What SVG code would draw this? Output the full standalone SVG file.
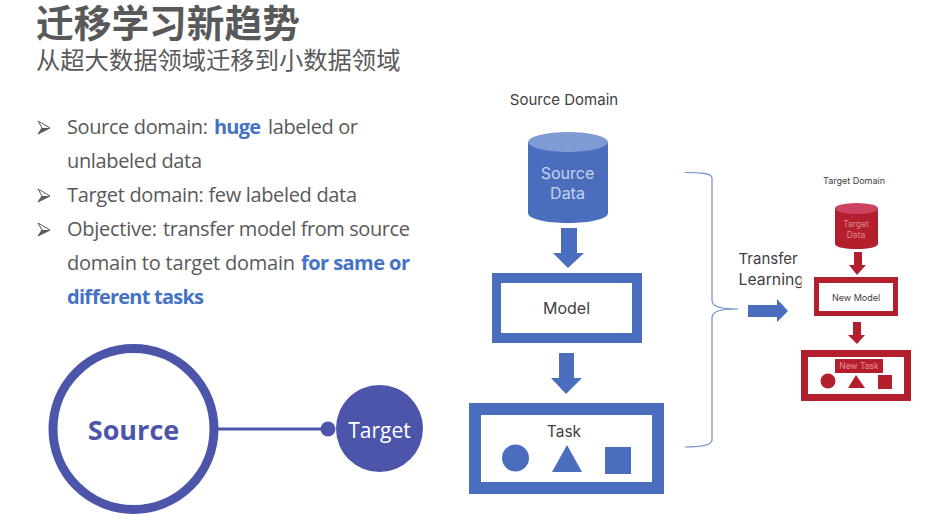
<svg xmlns="http://www.w3.org/2000/svg" width="945" height="521" viewBox="0 0 945 521">
<style>
text{font-family:"Open Sans","Liberation Sans",sans-serif}
.cjk{font-family:"Noto Sans CJK SC",sans-serif}
.b{font-size:20px;fill:#595959}
.bb{font-weight:700;fill:#4472c4}
.bl{fill:#4a6ebd}
.rd{fill:#b41f2e}
.w{fill:#fff}
.in{fill:#4c55a9}
.d{font-family:Inter,"Open Sans",sans-serif;fill:#404040;text-anchor:middle}
</style>
<defs>
<clipPath id="tc"><rect x="730" y="245" width="71.500" height="50"/></clipPath>
<g id="bul">
<path d="M0 0L12 7L0 13L4 7Z" fill="#fff" stroke="#595959" stroke-width="1" stroke-linejoin="miter"/>
<path d="M4 7H12L0 13Z" fill="#595959"/>
</g>
</defs>
<rect width="945" height="521" fill="#fff"/>
<g id="title">
<text class="cjk" x="36" y="37" font-size="37.7" font-weight="700" fill="#595959">迁移学习新趋势</text>
<text class="cjk" x="36" y="69" font-size="24.3" fill="#595959">从超大数据领域迁移到小数据领域</text>
</g>
<g id="bullets">
<use href="#bul" x="38" y="121"/>
<use href="#bul" x="38" y="189"/>
<use href="#bul" x="38" y="223"/>
<text class="b" x="67" y="134" textLength="141">Source domain:</text>
<text class="b bb" x="214" y="134" textLength="47">huge</text>
<text class="b" x="268" y="134" textLength="90">labeled or</text>
<text class="b" x="67" y="168" textLength="135">unlabeled data</text>
<text class="b" x="67" y="202" textLength="290">Target domain: few labeled data</text>
<text class="b" x="67" y="236" textLength="90">Objective:</text>
<text class="b" x="163" y="236" textLength="247">transfer model from source</text>
<text class="b" x="67" y="270" textLength="228">domain to target domain</text>
<text class="b bb" x="301" y="270" textLength="109">for same or</text>
<text class="b bb" x="67" y="304" textLength="137">different tasks</text>
</g>
<g id="connectors">
<line x1="218" y1="429" x2="328" y2="429" stroke="#4c55a9" stroke-width="3"/>
<circle class="in" cx="328" cy="429" r="7.5"/>
<path d="M685 172.500C700 172.500 712 173 712 178V300C712 306 718 309 738 309C718 309 712 312 712 318V440C712 445 700 447 685 447" fill="none" stroke="#6f90c8" stroke-width="1.200"/>
<path class="bl" d="M561 228H577V253H584L568 268L553 253H561Z"/>
<path class="bl" d="M559 353H574V378H582L566 394L551 378H559Z"/>
<path class="bl" d="M748 305H777V299L788 311L777 322V317H748Z"/>
<path class="rd" d="M854 252H862V265H866L857 275L849 265H854Z"/>
<path class="rd" d="M853 322H861V335H865L857 344L848 335H853Z"/>
</g>
<g id="source">
<circle cx="133.500" cy="429" r="80.500" fill="#fff" stroke="#4c55a9" stroke-width="9"/>
<text x="133.500" y="440" font-size="27" font-weight="700" fill="#4c55a9" text-anchor="middle">Source</text>
</g>
<g id="target">
<circle class="in" cx="379.500" cy="428.500" r="43.500"/>
<text x="379.500" y="438" font-size="21" fill="#fff" text-anchor="middle">Target</text>
</g>
<g id="source-domain-label"><text class="d" x="564" y="105" font-size="15">Source Domain</text></g>
<g id="source-data">
<path class="bl" d="M528 142V213C528 219 546 223 568 223S608 219 608 213V142Z"/>
<ellipse cx="568" cy="142" rx="40" ry="10" fill="#7f9bd3"/>
<text x="567.500" y="179" font-size="16" fill="#c5d3ee" text-anchor="middle" style="font-family:Inter,sans-serif">Source</text>
<text x="567.500" y="199" font-size="16" fill="#c5d3ee" text-anchor="middle" style="font-family:Inter,sans-serif">Data</text>
</g>
<g id="model">
<rect class="bl" x="492" y="273" width="150" height="70"/>
<rect class="w" x="501" y="283" width="131" height="50"/>
<text class="d" x="566.500" y="314" font-size="16">Model</text>
</g>
<g id="task">
<rect class="bl" x="469" y="403" width="195" height="91"/>
<rect class="w" x="481" y="415" width="171" height="67"/>
<text class="d" x="564" y="437" font-size="15.500">Task</text>
<circle class="bl" cx="515.500" cy="458" r="13.500"/>
<path class="bl" d="M567 445L582 472H552Z"/>
<rect class="bl" x="605" y="447" width="26" height="27"/>
</g>
<g id="transfer-learning">
<g clip-path="url(#tc)">
<text class="d" x="738.500" y="264" font-size="15" style="text-anchor:start">Transfer</text>
<text class="d" x="738.500" y="285" font-size="15.800" style="text-anchor:start">Learning</text>
</g>
</g>
<g id="target-domain-label"><text class="d" x="854" y="184" font-size="9">Target Domain</text></g>
<g id="target-data">
<path class="rd" d="M835 209V244C835 247 845 249 856.500 249S878 247 878 244V209Z"/>
<ellipse cx="856.500" cy="208.500" rx="21.500" ry="5.500" fill="#cd4261"/>
<text x="856" y="227" font-size="8.500" fill="#e08a93" text-anchor="middle" style="font-family:Inter,sans-serif">Target</text>
<text x="856" y="238" font-size="8.500" fill="#e08a93" text-anchor="middle" style="font-family:Inter,sans-serif">Data</text>
</g>
<g id="new-model">
<rect class="rd" x="814" y="277" width="84" height="39"/>
<rect class="w" x="819" y="283" width="74" height="28"/>
<text class="d" x="856" y="301" font-size="9">New Model</text>
</g>
<g id="new-task">
<rect class="rd" x="801" y="350" width="110" height="51"/>
<rect class="w" x="808" y="357" width="96" height="37"/>
<rect class="rd" x="835" y="359" width="48" height="14"/>
<text x="859" y="369" font-size="8.500" fill="#ea8d95" text-anchor="middle" style="font-family:Inter,sans-serif">New Task</text>
<circle class="rd" cx="828" cy="381" r="7.500"/>
<path class="rd" d="M856 375L865 388H848Z"/>
<rect class="rd" x="878" y="375" width="14" height="14"/>
</g>
</svg>
